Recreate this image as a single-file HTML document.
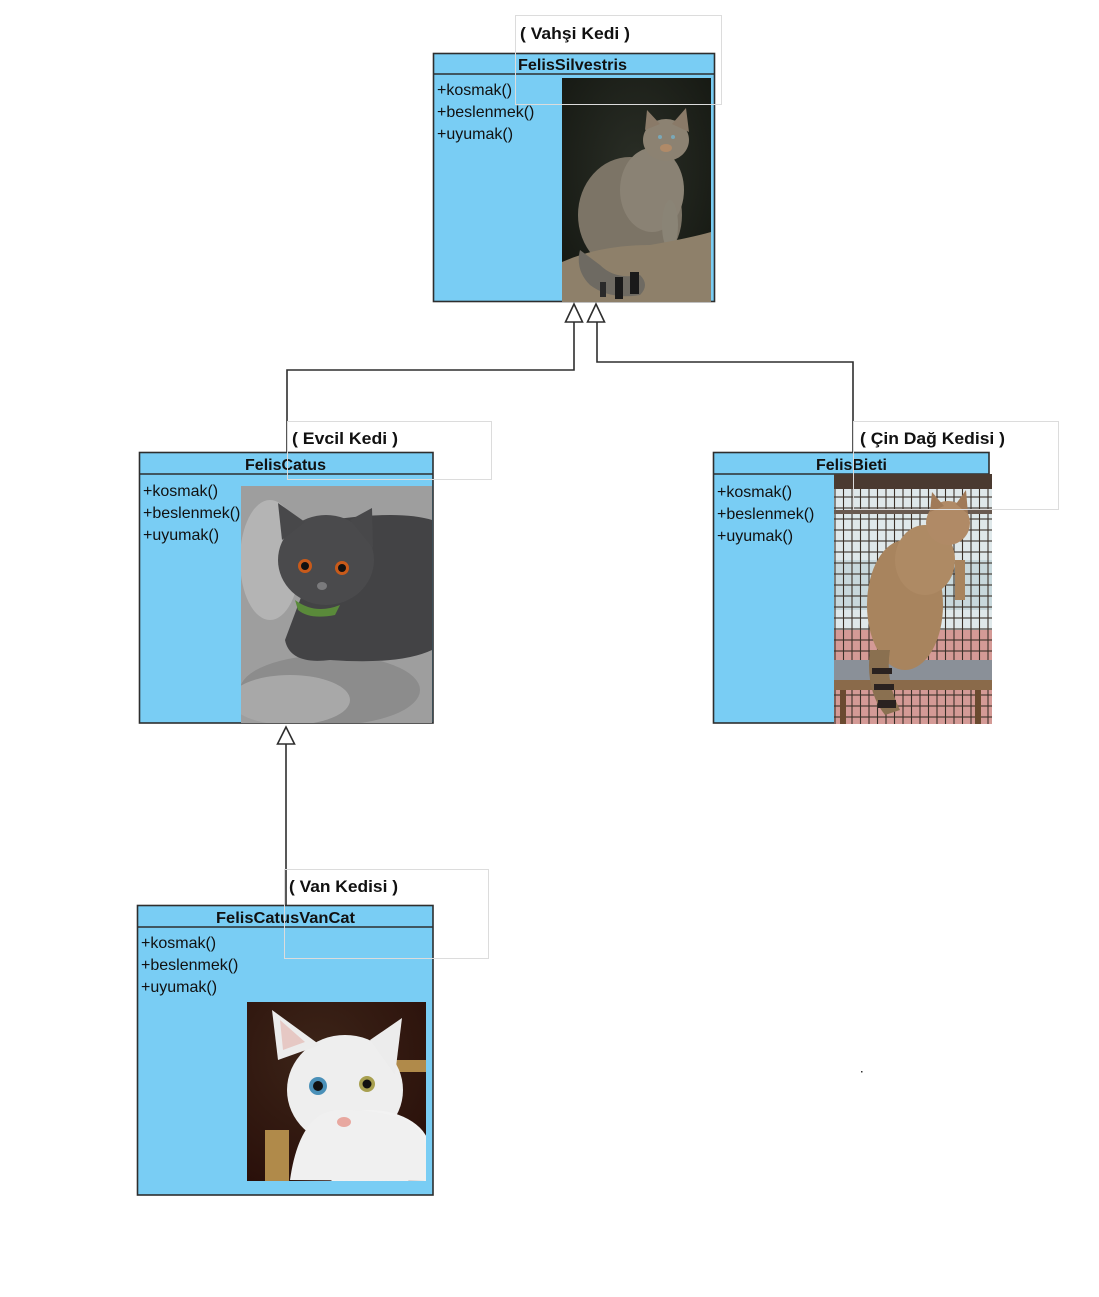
<!DOCTYPE html>
<html><head><meta charset="utf-8"><style>
html,body{margin:0;padding:0;background:#fff;}
svg{display:block;}
text{font-family:"Liberation Sans",Arial,sans-serif;fill:#111;}
.h{font-weight:bold;font-size:16px;}
.m{font-size:16px;}
.l{font-weight:bold;font-size:16.5px;}
</style></head><body>
<svg width="1099" height="1297" viewBox="0 0 1099 1297" xmlns="http://www.w3.org/2000/svg">
<defs>
<pattern id="grid" x="834" y="474" width="8.5" height="11" patternUnits="userSpaceOnUse">
<rect width="8.5" height="11" fill="none"/>
<line x1="1" y1="0" x2="1" y2="11" stroke="#3a3028" stroke-width="1.1"/>
<line x1="0" y1="1" x2="8.5" y2="1" stroke="#3a3028" stroke-width="1.1"/>
</pattern>
<radialGradient id="bgWild" cx="0.5" cy="0.4" r="0.7"><stop offset="0" stop-color="#2a2e26"/><stop offset="1" stop-color="#151812"/></radialGradient>
<radialGradient id="van" cx="0.4" cy="0.3" r="0.8"><stop offset="0" stop-color="#3c2418"/><stop offset="1" stop-color="#2a100a"/></radialGradient>
<clipPath id="c1"><rect x="562" y="78" width="149" height="224"/></clipPath>
<clipPath id="c2"><rect x="241" y="486" width="191" height="237"/></clipPath>
<clipPath id="c3"><rect x="834" y="474" width="158" height="250"/></clipPath>
<clipPath id="c4"><rect x="247" y="1002" width="179" height="179"/></clipPath>
</defs>

<!-- connectors -->
<g stroke="#2e2e2e" stroke-width="1.6" fill="none">
<polyline points="574,322 574,370 287,370 287,452"/>
<polyline points="597,322 597,362 853,362 853,452"/>
<line x1="286" y1="744" x2="286" y2="906"/>
</g>

<!-- FelisSilvestris -->
<rect x="433.5" y="53.5" width="281" height="248" fill="#79cdf4" stroke="#2e2e2e" stroke-width="1.6"/>
<line x1="433.5" y1="74" x2="714.5" y2="74" stroke="#2e2e2e" stroke-width="1.6"/>
<text class="h" x="518" y="70" textLength="109" lengthAdjust="spacingAndGlyphs">FelisSilvestris</text>
<text class="m" x="437" y="95">+kosmak()</text>
<text class="m" x="437" y="117">+beslenmek()</text>
<text class="m" x="437" y="139">+uyumak()</text>
<g clip-path="url(#c1)">
<rect x="562" y="78" width="149" height="224" fill="url(#bgWild)"/>
<ellipse cx="630" cy="215" rx="52" ry="58" fill="#7c7466"/>
<ellipse cx="652" cy="190" rx="32" ry="42" fill="#8a8274"/>
<ellipse cx="666" cy="140" rx="23" ry="21" fill="#8c8272"/>
<polygon points="645,130 647,110 660,124" fill="#8a7a68"/>
<polygon points="672,124 686,108 689,132" fill="#8a7a68"/>
<circle cx="660" cy="137" r="2" fill="#7aa8b8"/><circle cx="673" cy="137" r="2" fill="#7aa8b8"/>
<ellipse cx="666" cy="148" rx="6" ry="4" fill="#b08a68"/>
<ellipse cx="670" cy="225" rx="8" ry="25" fill="#8a8476"/>
<path d="M562 262 Q600 245 650 245 Q690 238 711 232 L711 302 L562 302 Z" fill="#8e806a"/>
<path d="M580 250 Q575 270 590 285 Q610 300 640 295 Q650 285 640 275 Q615 280 600 265 Z" fill="#6e6a62"/>
<rect x="615" y="277" width="8" height="22" fill="#1a1a1a"/>
<rect x="630" y="272" width="9" height="22" fill="#1a1a1a"/>
<rect x="600" y="282" width="6" height="15" fill="#2a2a2a"/>
</g>

<!-- FelisCatus -->
<rect x="139.5" y="452.5" width="293.5" height="270.5" fill="#79cdf4" stroke="#2e2e2e" stroke-width="1.6"/>
<line x1="139.5" y1="474" x2="433" y2="474" stroke="#2e2e2e" stroke-width="1.6"/>
<text class="h" x="245" y="470" textLength="81" lengthAdjust="spacingAndGlyphs">FelisCatus</text>
<text class="m" x="143" y="496">+kosmak()</text>
<text class="m" x="143" y="518">+beslenmek()</text>
<text class="m" x="143" y="540">+uyumak()</text>
<g clip-path="url(#c2)">
<rect x="241" y="486" width="191" height="237" fill="#9e9e9e"/>
<ellipse cx="270" cy="560" rx="30" ry="60" fill="#b4b4b4"/>
<ellipse cx="330" cy="690" rx="90" ry="35" fill="#8c8c8c"/>
<ellipse cx="290" cy="700" rx="60" ry="25" fill="#a8a8a8"/>
<path d="M330 520 Q400 510 432 520 L432 650 Q400 665 330 660 Q290 665 285 640 Z" fill="#434345"/>
<ellipse cx="326" cy="560" rx="48" ry="45" fill="#4a4a4c"/>
<polygon points="282,540 278,503 305,522" fill="#48484a"/>
<polygon points="350,520 372,508 373,548" fill="#48484a"/>
<circle cx="305" cy="566" r="7" fill="#c85a1a"/><circle cx="305" cy="566" r="4" fill="#111"/>
<circle cx="342" cy="568" r="7" fill="#c85a1a"/><circle cx="342" cy="568" r="4" fill="#111"/>
<ellipse cx="322" cy="586" rx="5" ry="4" fill="#7a7a7c"/>
<path d="M295 600 Q315 615 340 605 L335 615 Q310 620 298 610 Z" fill="#5a8a3a"/>
</g>

<!-- FelisBieti -->
<rect x="713.5" y="452.5" width="275.5" height="270.5" fill="#79cdf4" stroke="#2e2e2e" stroke-width="1.6"/>
<line x1="713.5" y1="474" x2="989" y2="474" stroke="#2e2e2e" stroke-width="1.6"/>
<text class="h" x="816" y="470" textLength="71" lengthAdjust="spacingAndGlyphs">FelisBieti</text>
<text class="m" x="717" y="497">+kosmak()</text>
<text class="m" x="717" y="519">+beslenmek()</text>
<text class="m" x="717" y="541">+uyumak()</text>
<g clip-path="url(#c3)">
<rect x="834" y="474" width="158" height="250" fill="#dfe8ea"/>
<rect x="834" y="560" width="158" height="50" fill="#c8d8dc"/>
<rect x="834" y="630" width="158" height="94" fill="#d49a96"/>
<rect x="834" y="474" width="158" height="250" fill="url(#grid)"/>
<rect x="834" y="474" width="158" height="15" fill="#4a3a30"/>
<rect x="834" y="510" width="158" height="4" fill="#6a5a50"/>
<rect x="834" y="660" width="158" height="20" fill="#8a9098"/>
<rect x="834" y="680" width="158" height="10" fill="#8a6a4a"/>
<rect x="840" y="690" width="6" height="34" fill="#6a4a30"/>
<rect x="975" y="690" width="6" height="34" fill="#6a4a30"/>
<ellipse cx="905" cy="605" rx="38" ry="65" fill="#a8845e"/>
<ellipse cx="925" cy="560" rx="30" ry="35" fill="#ae8a64"/>
<ellipse cx="948" cy="523" rx="22" ry="22" fill="#b08a66"/>
<polygon points="930,512 932,492 944,506" fill="#a07a58"/>
<polygon points="956,504 966,490 968,514" fill="#a07a58"/>
<rect x="955" y="560" width="10" height="40" fill="#a8845e"/>
<path d="M870 650 Q865 690 885 715 L900 710 Q885 680 890 650 Z" fill="#8a7050"/>
<rect x="872" y="668" width="20" height="6" fill="#2a2220"/>
<rect x="874" y="684" width="20" height="6" fill="#2a2220"/>
<rect x="878" y="700" width="18" height="8" fill="#2a2220"/>
</g>

<!-- FelisCatusVanCat -->
<rect x="137.5" y="905.5" width="295.5" height="289.5" fill="#79cdf4" stroke="#2e2e2e" stroke-width="1.6"/>
<line x1="137.5" y1="927" x2="433" y2="927" stroke="#2e2e2e" stroke-width="1.6"/>
<text class="h" x="216" y="923" textLength="139" lengthAdjust="spacingAndGlyphs">FelisCatusVanCat</text>
<text class="m" x="141" y="948">+kosmak()</text>
<text class="m" x="141" y="970">+beslenmek()</text>
<text class="m" x="141" y="992">+uyumak()</text>
<g clip-path="url(#c4)">
<rect x="247" y="1002" width="179" height="179" fill="url(#van)"/>
<rect x="380" y="1060" width="46" height="12" fill="#b08a4a"/>
<rect x="265" y="1130" width="24" height="51" fill="#b08a4a"/>
<ellipse cx="345" cy="1090" rx="58" ry="55" fill="#eeeeee"/>
<ellipse cx="370" cy="1150" rx="60" ry="40" fill="#f2f2f2"/>
<path d="M290 1180 Q300 1110 340 1110 Q426 1110 426 1150 L426 1181 Z" fill="#f0f0f0"/>
<polygon points="278,1060 272,1010 320,1045" fill="#ececec"/>
<polygon points="370,1040 402,1018 395,1075" fill="#ececec"/>
<polygon points="283,1050 280,1020 305,1042" fill="#e6c8c4"/>
<circle cx="318" cy="1086" r="9" fill="#4a90b8"/><circle cx="318" cy="1086" r="5" fill="#111"/>
<circle cx="367" cy="1084" r="8" fill="#a8a050"/><circle cx="367" cy="1084" r="4.5" fill="#111"/>
<ellipse cx="344" cy="1122" rx="7" ry="5" fill="#e8a8a0"/>
</g>

<!-- arrow triangles -->
<g fill="#fff" stroke="#2e2e2e" stroke-width="1.6">
<polygon points="574,304 565.5,322 582.5,322"/>
<polygon points="596,304 587.5,322 604.5,322"/>
<polygon points="286,727 277.5,744 294.5,744"/>
</g>

<!-- label boxes -->
<g fill="none" stroke="#dcdcdc" stroke-width="1">
<rect x="515.5" y="15.5" width="206" height="89"/>
<rect x="287.5" y="421.5" width="204" height="58"/>
<rect x="853.5" y="421.5" width="205" height="88"/>
<rect x="284.5" y="869.5" width="204" height="89"/>
</g>
<text class="l" x="520" y="39" textLength="110" lengthAdjust="spacingAndGlyphs">( Vahşi Kedi )</text>
<text class="l" x="292" y="444" textLength="106" lengthAdjust="spacingAndGlyphs">( Evcil Kedi )</text>
<text class="l" x="860" y="444" textLength="145" lengthAdjust="spacingAndGlyphs">( Çin Dağ Kedisi )</text>
<text class="l" x="289" y="892" textLength="109" lengthAdjust="spacingAndGlyphs">( Van Kedisi )</text>

<rect x="861" y="1071" width="1.5" height="1.5" fill="#333"/>
</svg>
</body></html>
